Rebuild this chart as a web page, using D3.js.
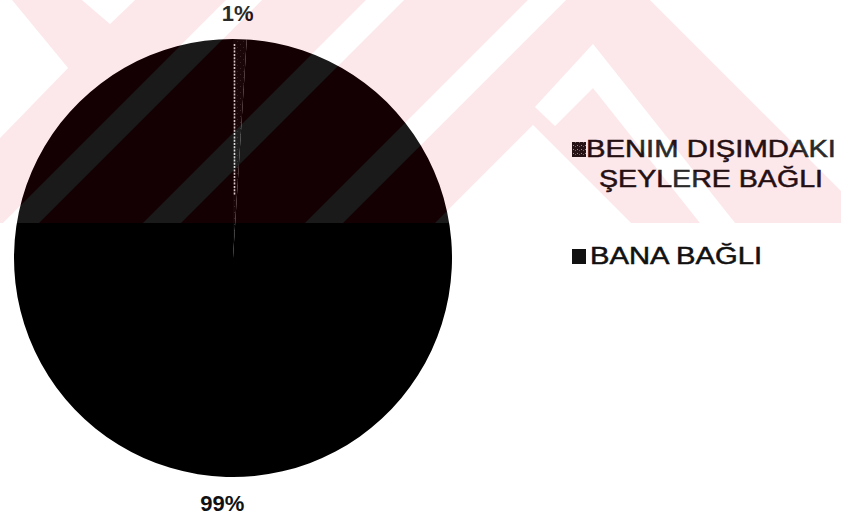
<!DOCTYPE html>
<html>
<head>
<meta charset="utf-8">
<script src="https://cdn.jsdelivr.net/npm/d3@7"></script>
<style>
  html, body { margin: 0; padding: 0; background: #fff; }
  svg { display: block; }
</style>
</head>
<body>
<svg id="chart" width="841" height="520"></svg>
<script>
// Slice data
const categories = ["BENIM DIŞIMDAKI ŞEYLERE BAĞLI", "BANA BAĞLI"];
const values = [1, 99];
const percentLabels = ["1%", "99%"];
// Legend text, one entry per slice, split into lines
const legendLines = [["BENIM DIŞIMDAKI", "ŞEYLERE BAĞLI"], ["BANA BAĞLI"]];

const W = 841, H = 520;
const cx = 233, cy = 258, radius = 219, labelRadius = 245;
const bandBottom = 223; // lower edge of the tinted header band

const svg = d3.select("#chart");
svg.append("rect").attr("width", W).attr("height", H).attr("fill", "#fff");

const defs = svg.append("defs");

// Dark speckled fill used for the small slice
const pat = defs.append("pattern")
  .attr("id", "speckle").attr("patternUnits", "userSpaceOnUse")
  .attr("width", 6).attr("height", 6);
pat.append("rect").attr("width", 6).attr("height", 6).attr("fill", "#060606");
pat.append("rect").attr("x", 1).attr("y", 2).attr("width", 1).attr("height", 1).attr("fill", "#2a2a2a");
pat.append("rect").attr("x", 4).attr("y", 5).attr("width", 1).attr("height", 1).attr("fill", "#222");

// Brighter speckle for the small legend key
const patKey = defs.append("pattern")
  .attr("id", "speckleKey").attr("patternUnits", "userSpaceOnUse")
  .attr("width", 4).attr("height", 4);
patKey.append("rect").attr("width", 4).attr("height", 4).attr("fill", "#151515");
patKey.append("rect").attr("x", 1).attr("y", 1).attr("width", 1).attr("height", 1).attr("fill", "#9a9a9a");
patKey.append("rect").attr("x", 3).attr("y", 2).attr("width", 1).attr("height", 1).attr("fill", "#666");

const fills = ["url(#speckle)", "#000"];
const keyFills = ["url(#speckleKey)", "#111"];

// Pie
const pie = d3.pie().sort(null).startAngle(0).endAngle(2 * Math.PI)(values);
const arc = d3.arc().innerRadius(0).outerRadius(radius);
const labelArc = d3.arc().innerRadius(labelRadius).outerRadius(labelRadius);

const g = svg.append("g").attr("transform", `translate(${cx},${cy})`);
g.selectAll("path.slice").data(pie).join("path")
  .attr("class", "slice")
  .attr("d", arc)
  .attr("fill", (d, i) => fills[i]);

// Light seam along the leading edge of the small slice
const seam = pie[0].startAngle;
g.append("line")
  .attr("x1", Math.sin(seam) * radius * 0.29 + 1.5)
  .attr("y1", -Math.cos(seam) * radius * 0.29)
  .attr("x2", Math.sin(seam) * radius * 0.98 + 1.5)
  .attr("y2", -Math.cos(seam) * radius * 0.98)
  .attr("stroke", "#d8d8d8").attr("stroke-width", 1.6)
  .attr("stroke-dasharray", "2 1.3");

// Percentage labels outside the pie
g.selectAll("text.pct").data(pie).join("text")
  .attr("class", "pct")
  .attr("transform", d => {
    const [x, y] = labelArc.centroid(d);
    return `translate(${x - 3},${y})`;
  })
  .attr("text-anchor", "middle")
  .attr("dy", "0.36em")
  .attr("font-family", "'Liberation Sans', Arial, sans-serif")
  .attr("font-weight", "bold")
  .attr("font-size", 22)
  .attr("fill", "#111")
  .text((d, i) => percentLabels[i]);

// Legend
const legendKeyX = 572, legendTextCenter = 711;
const legendRowTop = [142, 249];
const lineGap = 30;
const lineWidths = [[250, 224], [172]];
const legend = svg.append("g");
categories.forEach((c, i) => {
  legend.append("rect")
    .attr("x", legendKeyX).attr("y", legendRowTop[i])
    .attr("width", 14).attr("height", 15)
    .attr("fill", keyFills[i]);
  legendLines[i].forEach((line, j) => {
    const w = lineWidths[i][j];
    const x = legendLines[i].length > 1 ? legendTextCenter - w / 2 : 590;
    legend.append("text")
      .attr("x", x)
      .attr("y", legendRowTop[i] + 15 + j * lineGap)
      .attr("font-family", "'Liberation Sans', Arial, sans-serif")
      .attr("font-size", 23)
      .attr("fill", "#111")
      .attr("stroke", "#111").attr("stroke-width", 0.5)
      .attr("textLength", w)
      .attr("lengthAdjust", "spacingAndGlyphs")
      .text(line);
  });
});

// Header band tint: red wash with light diagonal gaps
const diag = (c1, c2) => [[c1, 0], [c2, 0], [c2 - bandBottom, bandBottom], [c1 - bandBottom, bandBottom]];
const gaps = [
  diag(226, 262), diag(366, 404), diag(528, 566),
  [[0, 0], [12, 0], [68, 68], [0, 138]],
  [[82, 0], [135, 0], [110, 24]],
  [[533, 125], [435, bandBottom], [631, bandBottom]],
  [[593, 44], [735, bandBottom], [700, bandBottom], [593, 88], [555, 126], [535, 107]],
  [[650, 0], [W, 0], [W, 191]]
];
const toPath = p => "M" + p.map(q => q.join(",")).join("L") + "Z";

defs.append("clipPath").attr("id", "band")
  .append("rect").attr("width", W).attr("height", bandBottom);
const mask = defs.append("mask").attr("id", "washMask")
  .attr("maskUnits", "userSpaceOnUse").attr("x", 0).attr("y", 0).attr("width", W).attr("height", H);
mask.append("rect").attr("width", W).attr("height", bandBottom).attr("fill", "#fff");
gaps.forEach(p => mask.append("path").attr("d", toPath(p)).attr("fill", "#000"));

svg.append("rect")
  .attr("width", W).attr("height", bandBottom)
  .attr("fill", "rgb(230,0,40)").attr("opacity", 0.085)
  .attr("mask", "url(#washMask)");

const gapLayer = svg.append("g").attr("clip-path", "url(#band)").attr("opacity", 0.1);
gaps.forEach(p => gapLayer.append("path").attr("d", toPath(p)).attr("fill", "#fff"));
</script>
</body>
</html>
